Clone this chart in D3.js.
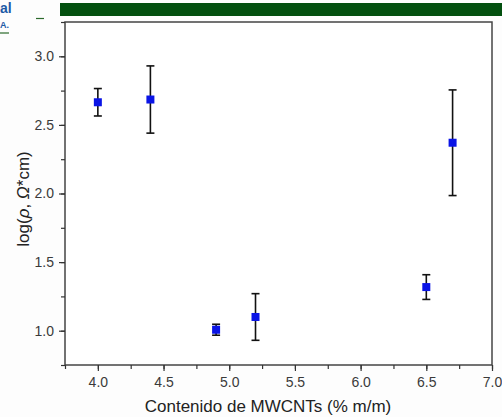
<!DOCTYPE html>
<html>
<head>
<meta charset="utf-8">
<script src="https://cdn.jsdelivr.net/npm/d3@7"></script>
<style>
  body { margin: 0; background: #fdfdfd; }
  svg { display: block; font-family: "Liberation Sans", Arial, sans-serif; }
</style>
</head>
<body>
<svg id="chart" width="502" height="417"></svg>
<script>
// data
var contenido = [4.0, 4.4, 4.9, 5.2, 6.5, 6.7];
var logRho    = [2.665, 2.685, 1.007, 1.10, 1.318, 2.37];
var errRho    = [0.10, 0.245, 0.04, 0.17, 0.09, 0.385];
var xTicks = [4.0, 4.5, 5.0, 5.5, 6.0, 6.5, 7.0];
var yTicks = [1.0, 1.5, 2.0, 2.5, 3.0];

var svg = d3.select("#chart");

// header bits (cropped logo + green band)
svg.append("rect").attr("x", 60).attr("y", 3).attr("width", 442).attr("height", 13).attr("fill", "#03500f");
svg.append("text").attr("x", 0).attr("y", 13).attr("font-size", 14).attr("font-weight", "bold")
  .attr("fill", "#1d5aa6").text("al");
svg.append("text").attr("x", 0).attr("y", 28).attr("font-size", 9).attr("font-weight", "bold")
  .attr("fill", "#1d5aa6").text("A.");
svg.append("line").attr("x1", 0).attr("x2", 9).attr("y1", 33).attr("y2", 33).attr("stroke", "#2b6a2b").attr("stroke-width", 1.2);
svg.append("line").attr("x1", 36).attr("x2", 44).attr("y1", 18.5).attr("y2", 18.5).attr("stroke", "#2b6a2b").attr("stroke-width", 1.2);

var mLeft = 65, mRight = 492, mTop = 22, mBottom = 365;

var x = d3.scaleLinear().domain([3.75, 7.0]).range([mLeft, mRight]);
var y = d3.scaleLinear().domain([0.75, 3.25]).range([mBottom, mTop]);

// frame
svg.append("rect").attr("x", mLeft).attr("y", mTop).attr("width", mRight - mLeft).attr("height", mBottom - mTop)
  .attr("fill", "#fff").attr("stroke", "#444").attr("stroke-width", 1.5);

// x axis
var xAxis = svg.append("g").attr("transform", "translate(0," + mBottom + ")");
xAxis.append("g").call(d3.axisBottom(x).tickValues(d3.range(3.75, 7.01, 0.25)).tickSize(4).tickFormat(""));
xAxis.append("g").call(d3.axisBottom(x).tickValues(xTicks).tickSize(6).tickPadding(6).tickFormat(d3.format(".1f")));
xAxis.selectAll(".domain").remove();
xAxis.selectAll("line").attr("stroke", "#333").attr("stroke-width", 1.2);
xAxis.selectAll("text").attr("font-size", 14).attr("fill", "#3a3a3a").attr("font-family", "Liberation Sans, Arial, sans-serif");

// y axis
var yAxis = svg.append("g").attr("transform", "translate(" + mLeft + ",0)");
yAxis.append("g").call(d3.axisLeft(y).tickValues(d3.range(0.75, 3.26, 0.25)).tickSize(4).tickFormat(""));
yAxis.append("g").call(d3.axisLeft(y).tickValues(yTicks).tickSize(6).tickPadding(5).tickFormat(d3.format(".1f")));
yAxis.selectAll(".domain").remove();
yAxis.selectAll("line").attr("stroke", "#333").attr("stroke-width", 1.2);
yAxis.selectAll("text").attr("font-size", 14).attr("fill", "#3a3a3a").attr("font-family", "Liberation Sans, Arial, sans-serif");

// axis titles
svg.append("text").attr("x", 268).attr("y", 412).attr("text-anchor", "middle")
  .attr("font-size", 17).attr("fill", "#222").text("Contenido de MWCNTs (% m/m)");

var yt = svg.append("text").attr("transform", "translate(29,199) rotate(-90)")
  .attr("text-anchor", "middle").attr("font-size", 17).attr("fill", "#222");
yt.append("tspan").text("log(");
yt.append("tspan").attr("font-style", "italic").text("ρ");
yt.append("tspan").text(", ");
yt.append("tspan").attr("font-style", "italic").text("Ω");
yt.append("tspan").text("*cm)");

// error bars + markers
var pts = contenido.map(function(c, i) { return { x: c, y: logRho[i], e: errRho[i] }; });
var g = svg.append("g");
var eb = g.selectAll(".eb").data(pts).enter().append("g").attr("class", "eb")
  .attr("stroke", "#111").attr("stroke-width", 1.6);
eb.append("line").attr("x1", function(d) { return x(d.x); }).attr("x2", function(d) { return x(d.x); })
  .attr("y1", function(d) { return y(d.y + d.e); }).attr("y2", function(d) { return y(d.y - d.e); });
eb.append("line").attr("x1", function(d) { return x(d.x) - 4; }).attr("x2", function(d) { return x(d.x) + 4; })
  .attr("y1", function(d) { return y(d.y + d.e); }).attr("y2", function(d) { return y(d.y + d.e); });
eb.append("line").attr("x1", function(d) { return x(d.x) - 4; }).attr("x2", function(d) { return x(d.x) + 4; })
  .attr("y1", function(d) { return y(d.y - d.e); }).attr("y2", function(d) { return y(d.y - d.e); });

g.selectAll(".pt").data(pts).enter().append("rect").attr("class", "pt")
  .attr("x", function(d) { return x(d.x) - 4; }).attr("y", function(d) { return y(d.y) - 4; })
  .attr("width", 8).attr("height", 8).attr("fill", "#0a14e6");
</script>
</body>
</html>
